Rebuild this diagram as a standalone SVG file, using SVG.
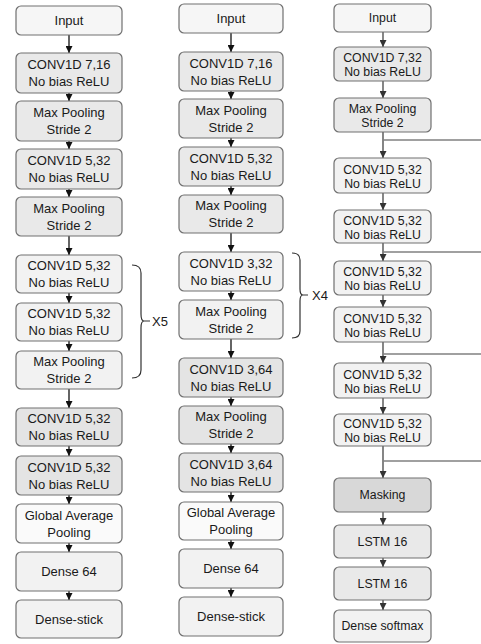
<svg xmlns="http://www.w3.org/2000/svg" width="481" height="644" viewBox="0 0 481 644">
<style>
rect{stroke:#707070;stroke-width:1.2}
text{font-family:"Liberation Sans",Arial,sans-serif;fill:#1a1a1a;text-anchor:middle}
.a text{font-size:13px}
.c3 text{font-size:12.3px}
.w{fill:#f6f6f6}
.g{fill:#e9e9e9}
.l{fill:#f2f2f2}
.d{fill:#e4e4e4}
.m{fill:#d8d8d8}
.ln{stroke:#111;stroke-width:1.3;fill:none}
.ln3{stroke:#444;stroke-width:1.3;fill:none}
.h{stroke:#808080;stroke-width:1.5;fill:none}
.br{stroke:#333;stroke-width:1.2;fill:none}
.lbl{font-size:13px;text-anchor:start}
</style>
<defs>
<marker id="ah" viewBox="0 0 10 10" refX="10" refY="5" markerWidth="7" markerHeight="7" markerUnits="userSpaceOnUse" orient="auto"><path d="M0,0 L10,5 L0,10z" fill="#111"/></marker>
<marker id="ah3" viewBox="0 0 10 10" refX="10" refY="5" markerWidth="7" markerHeight="7" markerUnits="userSpaceOnUse" orient="auto"><path d="M0,0 L10,5 L0,10z" fill="#333"/></marker>
</defs>
<g id="connectors">
<g class="ln" marker-end="url(#ah)">
<line x1="69" y1="35" x2="69" y2="53"/>
<line x1="69" y1="93" x2="69" y2="101"/>
<line x1="69" y1="141" x2="69" y2="149"/>
<line x1="69" y1="189" x2="69" y2="197"/>
<line x1="69" y1="236" x2="69" y2="255"/>
<line x1="69" y1="293" x2="69" y2="303"/>
<line x1="69" y1="341" x2="69" y2="351"/>
<line x1="69" y1="389" x2="69" y2="408"/>
<line x1="69" y1="446" x2="69" y2="456"/>
<line x1="69" y1="495" x2="69" y2="504"/>
<line x1="69" y1="543" x2="69" y2="552"/>
<line x1="69" y1="591" x2="69" y2="600"/>
<line x1="231" y1="33" x2="231" y2="52"/>
<line x1="231" y1="91" x2="231" y2="99"/>
<line x1="231" y1="138" x2="231" y2="147"/>
<line x1="231" y1="186" x2="231" y2="195"/>
<line x1="231" y1="233" x2="231" y2="252"/>
<line x1="231" y1="291" x2="231" y2="300"/>
<line x1="231" y1="339" x2="231" y2="358"/>
<line x1="231" y1="397" x2="231" y2="406"/>
<line x1="231" y1="444" x2="231" y2="453"/>
<line x1="231" y1="492" x2="231" y2="502"/>
<line x1="231" y1="540" x2="231" y2="549"/>
<line x1="231" y1="588" x2="231" y2="597"/>
</g>
<g class="ln3" marker-end="url(#ah3)">
<line x1="383" y1="32" x2="383" y2="47"/>
<line x1="383" y1="81" x2="383" y2="98"/>
<line x1="383" y1="132" x2="383" y2="158"/>
<line x1="383" y1="193" x2="383" y2="210"/>
<line x1="383" y1="243" x2="383" y2="261"/>
<line x1="383" y1="295" x2="383" y2="307"/>
<line x1="383" y1="342" x2="383" y2="363"/>
<line x1="383" y1="398" x2="383" y2="414"/>
<line x1="383" y1="446" x2="383" y2="478"/>
<line x1="383" y1="512" x2="383" y2="525"/>
<line x1="383" y1="558" x2="383" y2="567"/>
<line x1="383" y1="600" x2="383" y2="610"/>
</g>
<g class="h">
<line x1="383" y1="140" x2="481" y2="140"/>
<line x1="383" y1="252" x2="481" y2="252"/>
<line x1="383" y1="354" x2="481" y2="354"/>
<line x1="383" y1="461" x2="481" y2="461"/>
</g>
</g>
<g id="brace-x5">
<path class="br" d="M132,265 Q141,265 141,273 V314 Q141,321 144,321 H150 M144,321 Q141,321 141,328 V370 Q141,378 132,378"/>
<text class="lbl" x="152" y="326">X5</text>
</g>
<g id="brace-x4">
<path class="br" d="M292,253 Q300,253 300,260 V289 Q300,295 303,295 H308 M303,295 Q300,295 300,301 V331 Q300,338 292,338"/>
<text class="lbl" x="312" y="300">X4</text>
</g>
<g class="a">
<g id="c1-input"><rect class="w" x="16" y="6" width="106" height="29" rx="5"/><text x="69" y="25.1">Input</text></g>
<g id="c1-conv1"><rect class="g" x="16" y="53" width="106" height="40" rx="5"/><text x="69" y="69.1">CONV1D 7,16</text><text x="69" y="86.1">No bias ReLU</text></g>
<g id="c1-pool1"><rect class="g" x="16" y="101" width="106" height="40" rx="5"/><text x="69" y="117.1">Max Pooling</text><text x="69" y="134.1">Stride 2</text></g>
<g id="c1-conv2"><rect class="g" x="16" y="149" width="106" height="40" rx="5"/><text x="69" y="165.1">CONV1D 5,32</text><text x="69" y="182.1">No bias ReLU</text></g>
<g id="c1-pool2"><rect class="g" x="16" y="197" width="106" height="39" rx="5"/><text x="69" y="212.6">Max Pooling</text><text x="69" y="229.6">Stride 2</text></g>
<g id="c1-conv3"><rect class="l" x="16" y="255" width="106" height="38" rx="5"/><text x="69" y="270.1">CONV1D 5,32</text><text x="69" y="287.1">No bias ReLU</text></g>
<g id="c1-conv4"><rect class="l" x="16" y="303" width="106" height="38" rx="5"/><text x="69" y="318.1">CONV1D 5,32</text><text x="69" y="335.1">No bias ReLU</text></g>
<g id="c1-pool3"><rect class="l" x="16" y="351" width="106" height="38" rx="5"/><text x="69" y="366.1">Max Pooling</text><text x="69" y="383.1">Stride 2</text></g>
<g id="c1-conv5"><rect class="d" x="16" y="408" width="106" height="38" rx="5"/><text x="69" y="423.1">CONV1D 5,32</text><text x="69" y="440.1">No bias ReLU</text></g>
<g id="c1-conv6"><rect class="d" x="16" y="456" width="106" height="39" rx="5"/><text x="69" y="471.6">CONV1D 5,32</text><text x="69" y="488.6">No bias ReLU</text></g>
<g id="c1-gap"><rect fill="#fafafa" x="16" y="504" width="106" height="39" rx="5"/><text x="69" y="519.6">Global Average</text><text x="69" y="536.6">Pooling</text></g>
<g id="c1-dense"><rect class="l" x="16" y="552" width="106" height="39" rx="5"/><text x="69" y="576.1">Dense 64</text></g>
<g id="c1-out"><rect class="l" x="16" y="600" width="106" height="38" rx="5"/><text x="69" y="623.6">Dense-stick</text></g>

<g id="c2-input"><rect class="w" x="179" y="4" width="104" height="29" rx="5"/><text x="231" y="23.1">Input</text></g>
<g id="c2-conv1"><rect class="g" x="179" y="52" width="104" height="39" rx="5"/><text x="231" y="67.6">CONV1D 7,16</text><text x="231" y="84.6">No bias ReLU</text></g>
<g id="c2-pool1"><rect class="g" x="179" y="99" width="104" height="39" rx="5"/><text x="231" y="114.6">Max Pooling</text><text x="231" y="131.6">Stride 2</text></g>
<g id="c2-conv2"><rect class="g" x="179" y="147" width="104" height="39" rx="5"/><text x="231" y="162.6">CONV1D 5,32</text><text x="231" y="179.6">No bias ReLU</text></g>
<g id="c2-pool2"><rect class="g" x="179" y="195" width="104" height="38" rx="5"/><text x="231" y="210.1">Max Pooling</text><text x="231" y="227.1">Stride 2</text></g>
<g id="c2-conv3"><rect class="l" x="179" y="252" width="104" height="39" rx="5"/><text x="231" y="267.6">CONV1D 3,32</text><text x="231" y="284.6">No bias ReLU</text></g>
<g id="c2-pool3"><rect class="l" x="179" y="300" width="104" height="39" rx="5"/><text x="231" y="315.6">Max Pooling</text><text x="231" y="332.6">Stride 2</text></g>
<g id="c2-conv4"><rect class="d" x="179" y="358" width="104" height="39" rx="5"/><text x="231" y="373.6">CONV1D 3,64</text><text x="231" y="390.6">No bias ReLU</text></g>
<g id="c2-pool4"><rect class="d" x="179" y="406" width="104" height="38" rx="5"/><text x="231" y="421.1">Max Pooling</text><text x="231" y="438.1">Stride 2</text></g>
<g id="c2-conv5"><rect class="d" x="179" y="453" width="104" height="39" rx="5"/><text x="231" y="468.6">CONV1D 3,64</text><text x="231" y="485.6">No bias ReLU</text></g>
<g id="c2-gap"><rect fill="#fafafa" x="179" y="502" width="104" height="38" rx="5"/><text x="231" y="517.1">Global Average</text><text x="231" y="534.1">Pooling</text></g>
<g id="c2-dense"><rect class="l" x="179" y="549" width="104" height="39" rx="5"/><text x="231" y="573.1">Dense 64</text></g>
<g id="c2-out"><rect class="l" x="179" y="597" width="104" height="39" rx="5"/><text x="231" y="621.1">Dense-stick</text></g>
</g>
<g class="c3">
<g id="c3-input"><rect class="w" x="334" y="4" width="97" height="28" rx="5"/><text x="382.5" y="22.4">Input</text></g>
<g id="c3-conv1"><rect class="g" x="334" y="47" width="97" height="34" rx="5"/><text x="382.5" y="62.4">CONV1D 7,32</text><text x="382.5" y="76.4">No bias ReLU</text></g>
<g id="c3-pool1"><rect class="g" x="334" y="98" width="97" height="34" rx="5"/><text x="382.5" y="113.4">Max Pooling</text><text x="382.5" y="127.4">Stride 2</text></g>
<g id="c3-conv2"><rect class="l" x="334" y="158" width="97" height="35" rx="5"/><text x="382.5" y="173.9">CONV1D 5,32</text><text x="382.5" y="187.9">No bias ReLU</text></g>
<g id="c3-conv3"><rect class="l" x="334" y="210" width="97" height="33" rx="5"/><text x="382.5" y="224.9">CONV1D 5,32</text><text x="382.5" y="238.9">No bias ReLU</text></g>
<g id="c3-conv4"><rect class="l" x="334" y="261" width="97" height="34" rx="5"/><text x="382.5" y="276.4">CONV1D 5,32</text><text x="382.5" y="290.4">No bias ReLU</text></g>
<g id="c3-conv5"><rect class="l" x="334" y="307" width="97" height="35" rx="5"/><text x="382.5" y="322.9">CONV1D 5,32</text><text x="382.5" y="336.9">No bias ReLU</text></g>
<g id="c3-conv6"><rect class="l" x="334" y="363" width="97" height="35" rx="5"/><text x="382.5" y="378.9">CONV1D 5,32</text><text x="382.5" y="392.9">No bias ReLU</text></g>
<g id="c3-conv7"><rect class="l" x="334" y="414" width="97" height="32" rx="5"/><text x="382.5" y="428.4">CONV1D 5,32</text><text x="382.5" y="442.4">No bias ReLU</text></g>
<g id="c3-mask"><rect class="m" x="334" y="478" width="97" height="34" rx="5"/><text x="382.5" y="499.4">Masking</text></g>
<g id="c3-lstm1"><rect class="g" x="334" y="525" width="97" height="33" rx="5"/><text x="382.5" y="545.9">LSTM 16</text></g>
<g id="c3-lstm2"><rect class="g" x="334" y="567" width="97" height="33" rx="5"/><text x="382.5" y="587.9">LSTM 16</text></g>
<g id="c3-out"><rect class="l" x="334" y="610" width="97" height="32" rx="5"/><text x="382.5" y="630.4">Dense softmax</text></g>
</g>
</svg>
